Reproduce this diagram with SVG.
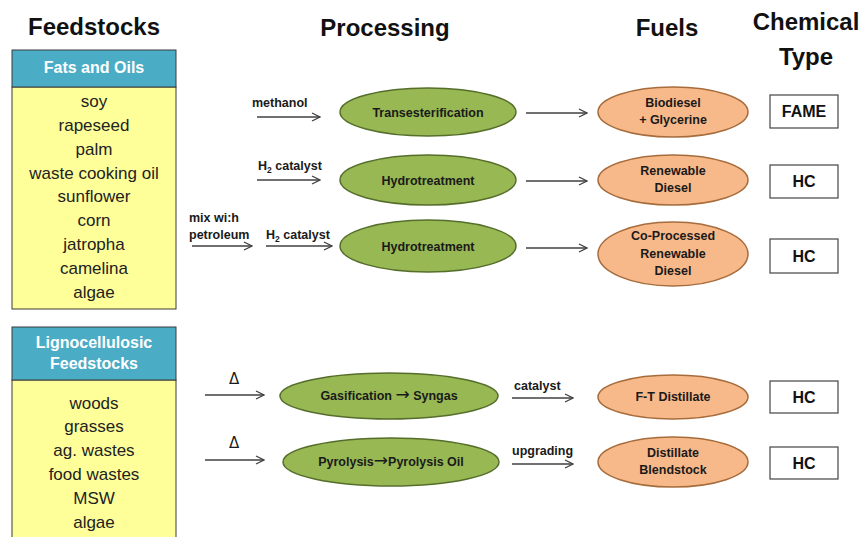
<svg xmlns="http://www.w3.org/2000/svg" width="862" height="537" viewBox="0 0 862 537">
<defs>
<marker id="ah" viewBox="0 0 10 10" refX="9" refY="5" markerWidth="10" markerHeight="10" markerUnits="userSpaceOnUse" orient="auto">
<polyline points="1,1 9,5 1,9" fill="none" stroke="#404040" stroke-width="1.3"/>
</marker>
<style>
.h{font-family:"Liberation Sans",Arial,sans-serif;font-weight:bold;font-size:24px;fill:#111;text-anchor:middle}
.hdr{fill:#4bacc6;stroke:#3a3a3a;stroke-width:1}
.body{fill:#ffff99;stroke:#3a3a3a;stroke-width:1}
.ht{font-family:"Liberation Sans",Arial,sans-serif;font-weight:bold;font-size:16px;fill:#fff;text-anchor:middle}
.it{font-family:"Liberation Sans",Arial,sans-serif;font-size:17px;fill:#222;text-anchor:middle}
.g{fill:#97b853;stroke:#566e2c;stroke-width:1.5}
.o{fill:#f8b98a;stroke:#a66c3c;stroke-width:1.5}
.t{font-family:"Liberation Sans",Arial,sans-serif;font-weight:bold;font-size:12.5px;fill:#1a1a1a;text-anchor:middle}
.ar{font-family:"DejaVu Sans",sans-serif;font-weight:normal;font-size:17px}
.lb{font-family:"Liberation Sans",Arial,sans-serif;font-weight:bold;font-size:12.5px;fill:#1a1a1a}
.dl{font-family:"DejaVu Sans",sans-serif;font-size:15px;fill:#1a1a1a}
.bx{fill:#fff;stroke:#444;stroke-width:1.2}
.bt{font-family:"Liberation Sans",Arial,sans-serif;font-weight:bold;font-size:16px;fill:#111;text-anchor:middle}
.c line{stroke:#404040;stroke-width:1.3;marker-end:url(#ah)}
</style>
</defs>
<rect width="862" height="537" fill="#fff"/>
<g id="headers">
<text class="h" x="94" y="35">Feedstocks</text>
<text class="h" x="385" y="36">Processing</text>
<text class="h" x="667" y="36">Fuels</text>
<text class="h" x="806" y="30">Chemical</text>
<text class="h" x="806" y="65">Type</text>
</g>
<g id="fats-oils">
<rect class="body" x="12" y="87" width="164" height="222"/>
<rect class="hdr" x="12" y="50" width="164" height="37"/>
<text class="ht" x="94" y="73">Fats and Oils</text>
<text class="it" x="94" y="107">soy</text>
<text class="it" x="94" y="131">rapeseed</text>
<text class="it" x="94" y="155">palm</text>
<text class="it" x="94" y="179">waste cooking oil</text>
<text class="it" x="94" y="202">sunflower</text>
<text class="it" x="94" y="226">corn</text>
<text class="it" x="94" y="250">jatropha</text>
<text class="it" x="94" y="274">camelina</text>
<text class="it" x="94" y="298">algae</text>
</g>
<g id="ligno">
<rect class="body" x="12" y="380" width="164" height="170"/>
<rect class="hdr" x="12" y="327" width="164" height="53"/>
<text class="ht" x="94" y="348">Lignocellulosic</text>
<text class="ht" x="94" y="369">Feedstocks</text>
<text class="it" x="94" y="409">woods</text>
<text class="it" x="94" y="432">grasses</text>
<text class="it" x="94" y="456">ag. wastes</text>
<text class="it" x="94" y="480">food wastes</text>
<text class="it" x="94" y="504">MSW</text>
<text class="it" x="94" y="528">algae</text>
</g>
<g id="trans"><ellipse class="g" cx="428" cy="112" rx="88" ry="24"/><text class="t" x="428" y="117">Transesterification</text></g>
<g id="hydro1"><ellipse class="g" cx="428" cy="180" rx="88" ry="25"/><text class="t" x="428" y="185">Hydrotreatment</text></g>
<g id="hydro2"><ellipse class="g" cx="428" cy="246" rx="88" ry="26"/><text class="t" x="428" y="251">Hydrotreatment</text></g>
<g id="gasif"><ellipse class="g" cx="389" cy="396" rx="109" ry="23"/><text class="t" x="389" y="400">Gasification <tspan class="ar">→</tspan>  Syngas</text></g>
<g id="pyro"><ellipse class="g" cx="391" cy="462" rx="108" ry="24"/><text class="t" x="391" y="466">Pyrolysis<tspan class="ar">→</tspan>Pyrolysis Oil</text></g>
<g id="biodiesel"><ellipse class="o" cx="673" cy="112" rx="75" ry="25"/><text class="t" x="673" y="107">Biodiesel</text><text class="t" x="673" y="124">+ Glycerine</text></g>
<g id="rd"><ellipse class="o" cx="673" cy="180" rx="75" ry="25"/><text class="t" x="673" y="175">Renewable</text><text class="t" x="673" y="192">Diesel</text></g>
<g id="cprd"><ellipse class="o" cx="673" cy="254" rx="75" ry="32"/><text class="t" x="673" y="240">Co-Processed</text><text class="t" x="673" y="258">Renewable</text><text class="t" x="673" y="275">Diesel</text></g>
<g id="ft"><ellipse class="o" cx="673" cy="397" rx="75" ry="22"/><text class="t" x="673" y="401">F-T Distillate</text></g>
<g id="db"><ellipse class="o" cx="673" cy="462" rx="75" ry="25"/><text class="t" x="673" y="457">Distillate</text><text class="t" x="673" y="474">Blendstock</text></g>
<g id="fame"><rect class="bx" x="770" y="95" width="68" height="33"/><text class="bt" x="804" y="117">FAME</text></g>
<g id="hc1"><rect class="bx" x="770" y="165" width="68" height="33"/><text class="bt" x="804" y="187">HC</text></g>
<g id="hc2"><rect class="bx" x="770" y="239" width="68" height="34"/><text class="bt" x="804" y="262">HC</text></g>
<g id="hc3"><rect class="bx" x="770" y="381" width="68" height="32"/><text class="bt" x="804" y="403">HC</text></g>
<g id="hc4"><rect class="bx" x="770" y="447" width="68" height="32"/><text class="bt" x="804" y="469">HC</text></g>
<g id="connectors" class="c">
<line x1="257" y1="117" x2="320" y2="117"/>
<line x1="257" y1="180" x2="320" y2="180"/>
<line x1="192" y1="246" x2="252" y2="246"/>
<line x1="266" y1="246" x2="332" y2="246"/>
<line x1="526" y1="113" x2="587" y2="113"/>
<line x1="526" y1="181" x2="587" y2="181"/>
<line x1="526" y1="248" x2="587" y2="248"/>
<line x1="205" y1="395" x2="264" y2="395"/>
<line x1="205" y1="460" x2="264" y2="460"/>
<line x1="512" y1="398" x2="573" y2="398"/>
<line x1="512" y1="464" x2="573" y2="464"/>
</g>
<g id="labels">
<text class="lb" x="252" y="107">methanol</text>
<text class="lb" x="258" y="170">H<tspan font-size="8.5" dy="3">2</tspan><tspan dy="-3"> catalyst</tspan></text>
<text class="lb" x="189" y="222">mix wi:h</text>
<text class="lb" x="189" y="239">petroleum</text>
<text class="lb" x="266" y="239">H<tspan font-size="8.5" dy="3">2</tspan><tspan dy="-3"> catalyst</tspan></text>
<text class="dl" x="229" y="384">Δ</text>
<text class="dl" x="229" y="448">Δ</text>
<text class="lb" x="514" y="390">catalyst</text>
<text class="lb" x="512" y="455">upgrading</text>
</g>
</svg>
